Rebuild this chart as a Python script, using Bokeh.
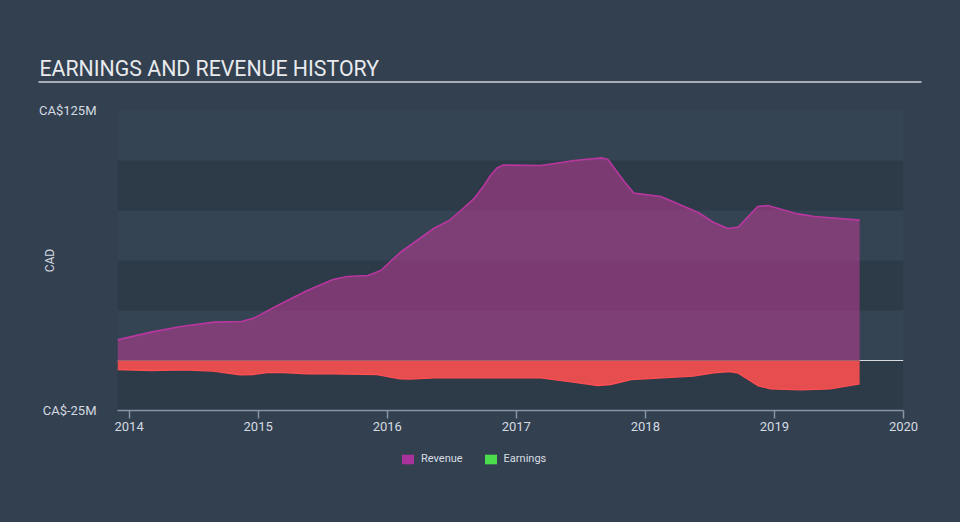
from bokeh.plotting import figure
from bokeh.layouts import column
from bokeh.models import (Range1d, FixedTicker, BoxAnnotation, Span, Legend, LegendItem)
from bokeh.core.properties import value
from bokeh.embed import file_html
from bokeh.resources import INLINE

# ---- data (CA$ millions) ----
rev_year = [2013.91, 2014.17, 2014.40, 2014.66, 2014.87, 2014.97, 2015.15, 2015.38, 2015.58,
            2015.69, 2015.85, 2015.95, 2016.10, 2016.36, 2016.48, 2016.57, 2016.67, 2016.75,
            2016.80, 2016.85, 2016.90, 2017.19, 2017.45, 2017.66, 2017.71, 2017.83, 2017.91,
            2018.12, 2018.41, 2018.53, 2018.64, 2018.72, 2018.87, 2018.95, 2019.18, 2019.31,
            2019.66]
revenue = [10.3, 14.2, 17.0, 19.2, 19.5, 21.3, 27.5, 35.0, 40.5,
           42.0, 42.5, 45.0, 54.0, 66.0, 70.0, 75.0, 80.8, 87.5,
           92.5, 96.3, 97.7, 97.5, 100.0, 101.3, 100.5, 90.0, 83.7,
           82.0, 74.0, 69.0, 66.0, 66.7, 77.0, 77.5, 73.3, 72.0,
           70.2]

earn_year = [2013.91, 2014.17, 2014.42, 2014.65, 2014.86, 2014.96, 2015.07, 2015.20, 2015.38,
             2015.58, 2015.92, 2016.10, 2016.18, 2016.36, 2016.72, 2017.19, 2017.44, 2017.63,
             2017.73, 2017.89, 2018.37, 2018.53, 2018.65, 2018.72, 2018.87, 2018.97, 2019.20,
             2019.43, 2019.66]
earnings = [-4.5, -5.0, -4.7, -5.3, -7.2, -7.0, -6.0, -6.0, -6.7,
            -6.7, -7.0, -9.2, -9.3, -8.7, -8.7, -8.7, -10.8, -12.5,
            -12.0, -9.5, -7.8, -6.2, -5.5, -6.3, -12.5, -14.2, -14.7,
            -14.2, -11.7]

year_ticks = [2014, 2015, 2016, 2017, 2018, 2019, 2020]
y_ticks = [-25, 125]
y_tick_labels = ["CA$-25M", "CA$125M"]
bands = [(-25, 0), (25, 50), (75, 100)]
title_text = "EARNINGS AND REVENUE HISTORY"
series_names = ["Revenue", "Earnings"]

FONT = "Roboto"
BG = "#324050"
TXT = "#d5dae0"


def blank(h):
    f = figure(width=960, height=h, output_backend="svg", toolbar_location=None,
               x_range=Range1d(0, 960), y_range=Range1d(h, 0),
               x_axis_type=None, y_axis_type=None, min_border=0)
    f.frame_align = False
    f.border_fill_color = BG
    f.background_fill_color = BG
    f.outline_line_color = None
    f.grid.visible = False
    f.styles = {"background-color": BG}
    return f


# ---- header: title + rule ----
top = blank(100)
top.text(x=[39], y=[67.5], text=[title_text], text_color="#e8eaed",
         text_font=value(FONT), text_font_size=value("21.3px"), text_baseline="middle")
top.segment(x0=[38], y0=[81.5], x1=[921], y1=[81.5], line_color="#a7adb4", line_width=2)

# ---- main chart ----
p = figure(width=960, height=345, output_backend="svg", toolbar_location=None,
           x_range=Range1d(2013.91, 2020.0), y_range=Range1d(-25, 125),
           min_border_left=117, min_border_right=57, min_border_top=10, min_border_bottom=35)
p.frame_align = False
p.styles = {"background-color": BG}
p.border_fill_color = BG
p.background_fill_color = "#344453"
p.outline_line_color = None
p.grid.visible = False

for lo, hi in bands:
    p.add_layout(BoxAnnotation(bottom=lo, top=hi, fill_color="#2d3a48", fill_alpha=1.0,
                               line_color=None, level="underlay"))

p.add_layout(Span(location=0, dimension="width", line_color="#d5dbe0", line_width=1.2,
                  level="underlay"))

p.varea(x=rev_year, y1=0, y2=revenue, fill_color="#ad3a8c", fill_alpha=0.62)
p.line(x=rev_year, y=revenue, line_color="#b8379f", line_width=1.6)
p.varea(x=earn_year, y1=earnings, y2=0, fill_color="#ec4d50", fill_alpha=0.97)
p.line(x=earn_year, y=earnings, line_color="#ff4f52", line_width=1.4)
p.line(x=[earn_year[0], earn_year[-1]], y=[0, 0], line_color="#a0606c", line_width=1.2)

xa = p.xaxis[0]
xa.ticker = FixedTicker(ticks=year_ticks)
xa.major_label_overrides = {t: str(t) for t in year_ticks}
xa.axis_line_color = "#8794a3"
xa.axis_line_width = 1.5
xa.major_tick_line_color = "#8794a3"
xa.major_tick_line_width = 1.5
xa.major_tick_out = 8
xa.major_tick_in = 0
xa.minor_tick_line_color = None
xa.major_label_text_color = TXT
xa.major_label_text_font = FONT
xa.major_label_text_font_size = "13px"
xa.major_label_standoff = 3

ya = p.yaxis[0]
ya.ticker = FixedTicker(ticks=y_ticks)
ya.major_label_overrides = dict(zip(y_ticks, y_tick_labels))
ya.axis_line_color = None
ya.major_tick_line_color = None
ya.minor_tick_line_color = None
ya.major_label_text_color = TXT
ya.major_label_text_font = FONT
ya.major_label_text_font_size = "13px"
ya.major_label_standoff = 15
ya.axis_label = "CAD"
ya.axis_label_text_color = TXT
ya.axis_label_text_font = FONT
ya.axis_label_text_font_size = "12px"
ya.axis_label_text_font_style = "normal"
ya.axis_label_standoff = -21

# ---- footer: legend (swatch renderers sit outside the visible range) ----
bottom = blank(77)
r_rev = bottom.varea(x=[-20, -10], y1=[0, 0], y2=[1, 1], fill_color="#a8339a")
r_earn = bottom.varea(x=[-20, -10], y1=[0, 0], y2=[1, 1], fill_color="#4cdd4c")
legend = Legend(items=[LegendItem(label=series_names[0], renderers=[r_rev]),
                       LegendItem(label=series_names[1], renderers=[r_earn])],
                orientation="horizontal", location=(400, 57),
                background_fill_alpha=0, border_line_alpha=0,
                label_text_color="#d8dde2", label_text_font=FONT, label_text_font_size="11px",
                glyph_width=15, glyph_height=12, spacing=20, label_standoff=6,
                padding=0, margin=0)
bottom.add_layout(legend)

layout = column(top, p, bottom, spacing=0, styles={"background-color": BG})
open("out.html", "w").write(file_html(layout, INLINE))
